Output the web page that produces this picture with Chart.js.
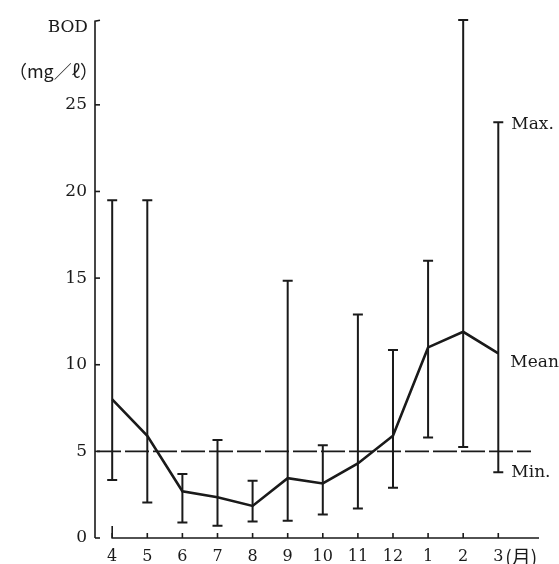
<!DOCTYPE html>
<html lang="ja">
<head>
    <meta charset="UTF-8">
    <title>BOD 月別変化</title>
    <script src="https://cdn.jsdelivr.net/npm/chart.js"></script>
    <style>
        body {
            margin: 0;
            background: #fff;
        }
        #wrap {
            width: 559px;
            height: 564px;
        }
    </style>
</head>
<body>
    <div id="wrap"><canvas id="bodChart" width="559" height="564"></canvas></div>

    <script>
        // データ
        const months = ['4', '5', '6', '7', '8', '9', '10', '11', '12', '1', '2', '3'];
        const meanBOD = [8.0, 5.9, 2.7, 2.35, 1.85, 3.45, 3.15, 4.3, 5.9, 11.0, 11.9, 10.65];
        const maxBOD = [19.5, 19.5, 3.7, 5.65, 3.3, 14.85, 5.35, 12.9, 10.85, 16.0, 29.9, 24.0];
        const minBOD = [3.35, 2.05, 0.9, 0.7, 0.95, 1.0, 1.35, 1.7, 2.9, 5.8, 5.25, 3.8];
        const yTicks = [0, 5, 10, 15, 20, 25];
        const refLevel = 5;

        const ink = '#1a1a1a';
        const serif = '"DejaVu Serif", "Liberation Serif", serif';

        // 軸・エラーバー・注記を描くプラグイン
        const bodPlugin = {
            id: 'bodPlugin',
            afterDatasetsDraw(chart) {
                const ctx = chart.ctx;
                const xs = chart.scales.x;
                const ys = chart.scales.y;
                const area = chart.chartArea;
                ctx.save();
                ctx.strokeStyle = ink;
                ctx.fillStyle = ink;
                ctx.lineCap = 'butt';

                // 縦軸
                const y0 = ys.getPixelForValue(0);
                const yTop = ys.getPixelForValue(ys.max);
                ctx.lineWidth = 1.6;
                ctx.beginPath();
                ctx.moveTo(area.left, y0);
                ctx.lineTo(area.left, yTop + 3);
                ctx.lineTo(area.left + 5, yTop + 2);
                ctx.stroke();
                yTicks.forEach(v => {
                    const y = ys.getPixelForValue(v);
                    ctx.beginPath();
                    ctx.moveTo(area.left, y);
                    ctx.lineTo(area.left + 5, y);
                    ctx.stroke();
                });

                // 横軸
                const xFirst = xs.getPixelForValue(0);
                ctx.beginPath();
                ctx.moveTo(xFirst, y0 - 12);
                ctx.lineTo(xFirst, y0);
                ctx.lineTo(area.right, y0);
                ctx.stroke();
                months.forEach((m, i) => {
                    const x = xs.getPixelForValue(i);
                    ctx.beginPath();
                    ctx.moveTo(x, y0);
                    ctx.lineTo(x, y0 - 5);
                    ctx.stroke();
                });

                // 基準線 (5 mg/ℓ)
                const yRef = ys.getPixelForValue(refLevel);
                ctx.setLineDash([24, 4]);
                ctx.lineWidth = 1.6;
                ctx.beginPath();
                ctx.moveTo(area.left + 2, yRef);
                ctx.lineTo(area.right - 8, yRef);
                ctx.stroke();
                ctx.setLineDash([]);

                // 最大・最小のエラーバー
                ctx.lineWidth = 2;
                months.forEach((m, i) => {
                    const x = xs.getPixelForValue(i);
                    const yMax = ys.getPixelForValue(maxBOD[i]);
                    const yMin = ys.getPixelForValue(minBOD[i]);
                    ctx.beginPath();
                    ctx.moveTo(x, yMax);
                    ctx.lineTo(x, yMin);
                    ctx.moveTo(x - 5, yMax);
                    ctx.lineTo(x + 5, yMax);
                    ctx.moveTo(x - 5, yMin);
                    ctx.lineTo(x + 5, yMin);
                    ctx.stroke();
                });

                // 右側の注記
                const last = months.length - 1;
                const xl = xs.getPixelForValue(last) + 13;
                ctx.font = '17px ' + serif;
                ctx.textAlign = 'left';
                ctx.textBaseline = 'middle';
                ctx.fillText('Max.', xl, ys.getPixelForValue(maxBOD[last]) + 2);
                ctx.fillText('Mean', xl - 1, ys.getPixelForValue(meanBOD[last]) + 9);
                ctx.fillText('Min.', xl, ys.getPixelForValue(minBOD[last]));

                // 縦軸タイトル
                ctx.textAlign = 'right';
                ctx.font = '17px ' + serif;
                ctx.fillText('BOD', area.left - 7, yTop + 9);
                ctx.font = '18px "Noto Sans CJK JP", ' + serif;
                ctx.fillText('（mg／ℓ）', area.left + 3, yTop + 53);

                // 横軸の単位
                ctx.textAlign = 'left';
                ctx.font = '19px "Noto Sans CJK JP", sans-serif';
                ctx.fillText('(月)', xs.getPixelForValue(last) + 7, y0 + 19);

                ctx.restore();
            }
        };

        const ctx = document.getElementById('bodChart').getContext('2d');
        new Chart(ctx, {
            type: 'line',
            data: {
                datasets: [{
                    label: 'Mean',
                    data: meanBOD.map((v, i) => ({ x: i, y: v })),
                    borderColor: ink,
                    borderWidth: 2.6,
                    pointRadius: 0,
                    tension: 0,
                    fill: false
                }]
            },
            options: {
                responsive: false,
                animation: false,
                layout: {
                    padding: { top: 13, right: 20, left: 0, bottom: 0 }
                },
                plugins: {
                    legend: { display: false },
                    tooltip: { enabled: false }
                },
                scales: {
                    x: {
                        type: 'linear',
                        min: -0.49,
                        max: 12.16,
                        grid: { display: false, drawTicks: false },
                        border: { display: false },
                        afterBuildTicks: scale => {
                            scale.ticks = months.map((m, i) => ({ value: i }));
                        },
                        afterFit: scale => { scale.height = 26; },
                        ticks: {
                            padding: 9,
                            autoSkip: false,
                            maxRotation: 0,
                            color: ink,
                            font: { family: serif, size: 16 },
                            callback: v => months[v]
                        }
                    },
                    y: {
                        min: 0,
                        max: 30,
                        grid: { display: false, drawTicks: false },
                        border: { display: false },
                        afterBuildTicks: scale => {
                            scale.ticks = yTicks.map(v => ({ value: v }));
                        },
                        afterFit: scale => { scale.width = 95; },
                        ticks: {
                            padding: 8,
                            color: ink,
                            font: { family: serif, size: 17 }
                        }
                    }
                }
            },
            plugins: [bodPlugin]
        });
    </script>
</body>
</html>
